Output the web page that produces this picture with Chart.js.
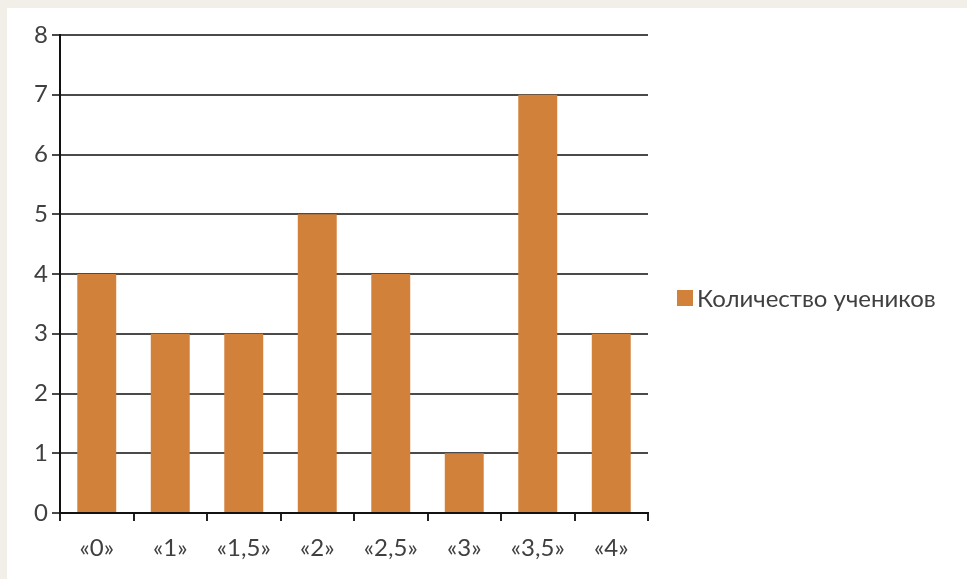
<!DOCTYPE html>
<html lang="ru">
<head>
<meta charset="utf-8">
<title>Количество учеников</title>
<script src="https://cdn.jsdelivr.net/npm/chart.js@4"></script>
<style>
  html, body { margin: 0; padding: 0; }
  body { width: 967px; height: 579px; background: #f2efe8; position: relative; overflow: hidden; }
  #sheet { position: absolute; left: 7px; top: 8px; right: 0; bottom: 0; background: #fff; }
  #chart { position: absolute; left: 0; top: 0; }
  #legend { position: absolute; left: 677px; top: 283px; font-family: Lato, sans-serif; font-size: 24px; color: #404040; display: flex; align-items: center; white-space: nowrap; }
  #legend .box { width: 16px; height: 16px; margin-right: 4px; }
</style>
</head>
<body>
<div id="sheet"></div>
<canvas id="chart" width="967" height="579"></canvas>
<div id="legend"></div>
<script>
var categories = ["«0»", "«1»", "«1,5»", "«2»", "«2,5»", "«3»", "«3,5»", "«4»"];
var studentCounts = [4, 3, 3, 5, 4, 1, 7, 3];
var seriesName = "Количество учеников";
var yMax = 8;

Chart.defaults.font.family = "Lato, sans-serif";
Chart.defaults.font.size = 24;
Chart.defaults.color = "#404040";

var ctx = document.getElementById("chart");
var myChart = new Chart(ctx, {
    type: 'bar',
    data: {
        labels: categories,
        datasets: [{
            label: seriesName,
            data: studentCounts,
            backgroundColor: '#d2813a',
            borderWidth: 0,
            categoryPercentage: 1,
            barPercentage: 0.53
        }]
    },
    options: {
        responsive: false,
        animation: false,
        layout: {
            padding: { top: 35, right: 319, bottom: 16, left: 0 }
        },
        plugins: {
            legend: { display: false },
            tooltip: { enabled: false }
        },
        scales: {
            x: {
                offset: true,
                grid: {
                    offset: true,
                    drawOnChartArea: false,
                    drawTicks: true,
                    tickLength: 8,
                    color: '#222',
                    lineWidth: 2
                },
                border: { color: '#111', width: 2 },
                ticks: { padding: 13, maxRotation: 0, autoSkip: false },
                afterFit: function(scale) { scale.height = 50; }
            },
            y: {
                min: 0,
                max: yMax,
                grid: {
                    color: '#4a4a4a',
                    lineWidth: 2,
                    tickLength: 8
                },
                border: { color: '#111', width: 2 },
                ticks: { stepSize: 1, padding: 4 },
                afterFit: function(scale) { scale.width = 60; }
            }
        }
    }
});

// легенда справа от графика
var legendBox = document.getElementById("legend");
myChart.options.plugins.legend.labels.generateLabels(myChart).forEach(function(item) {
    var box = document.createElement("span");
    box.className = "box";
    box.style.background = item.fillStyle;
    var text = document.createElement("span");
    text.textContent = item.text;
    legendBox.appendChild(box);
    legendBox.appendChild(text);
});
</script>
</body>
</html>
